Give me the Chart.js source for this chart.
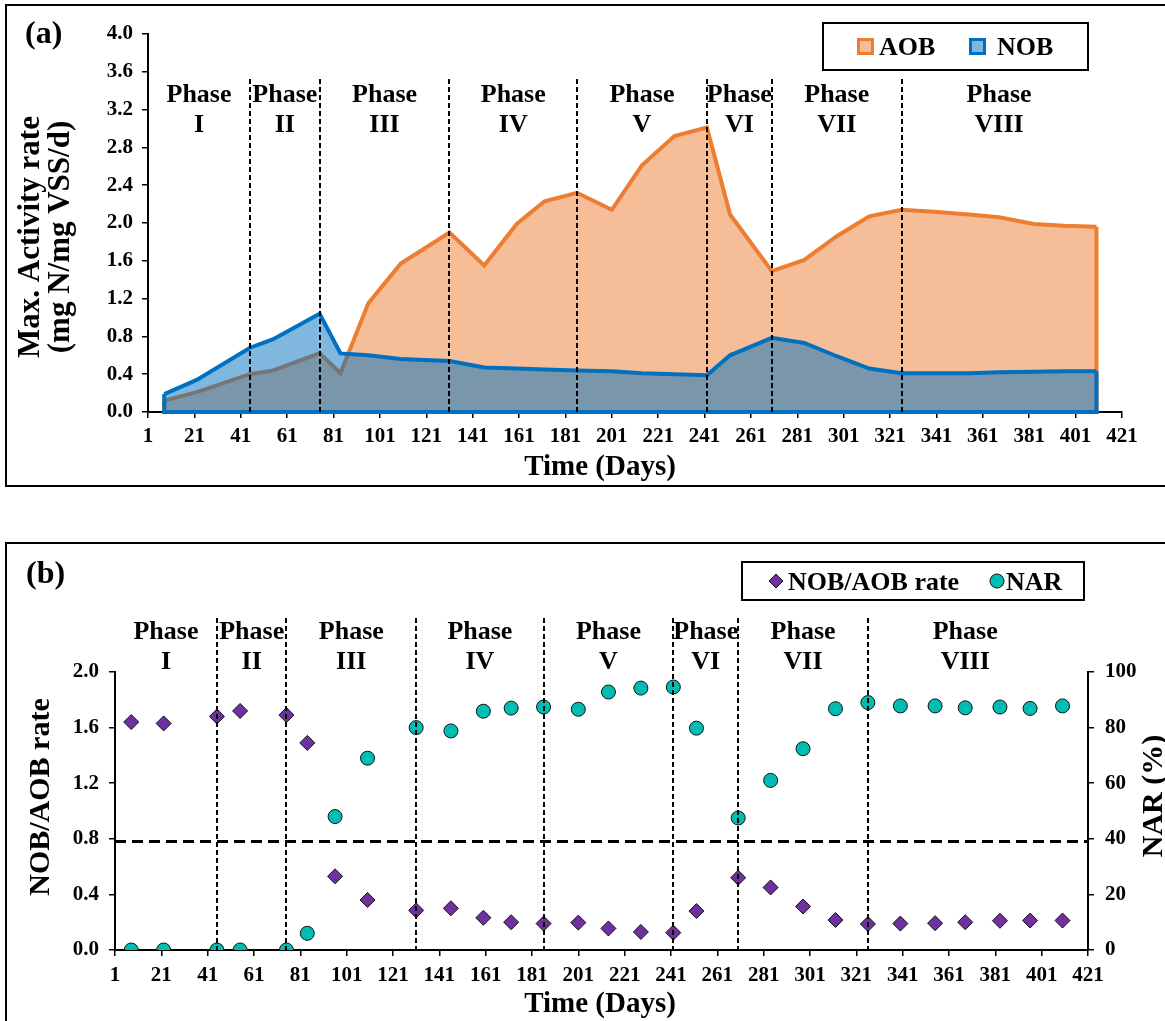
<!DOCTYPE html>
<html>
<head>
<meta charset="utf-8">
<script src="https://cdn.jsdelivr.net/npm/chart.js@4.4.1/dist/chart.umd.min.js"></script>
<style>
  html, body { margin: 0; padding: 0; background: #fff; overflow: hidden; width: 1165px; height: 1021px; }
  .panel { position: absolute; border: 2px solid #000; box-sizing: border-box; }
  #panelA { left: 5px; top: 4px; width: 1200px; height: 483px; }
  #panelB { left: 5px; top: 542px; width: 1200px; height: 600px; }
  canvas { position: absolute; left: 0; }
  #chartA { top: 0; }
  #chartB { top: 500px; }
</style>
</head>
<body>
<div class="panel" id="panelA"></div>
<div class="panel" id="panelB"></div>
<canvas id="chartA" width="1165" height="500"></canvas>
<canvas id="chartB" width="1165" height="521"></canvas>
<script>
// ---- Sampling days (operation time) ----
const days = [8, 22, 45, 55, 75, 84, 96, 110, 131, 146, 160, 172, 186, 201, 214,
              228, 242, 252, 270, 284, 298, 312, 326, 340, 355, 368, 383, 396, 410];

// ---- (a) Maximum activity rates, mg N/mg VSS/d ----
const aobRate = [0.12, 0.21, 0.40, 0.44, 0.62, 0.41, 1.15, 1.57, 1.90, 1.55, 1.99, 2.23, 2.32, 2.14, 2.61,
                 2.92, 3.01, 2.09, 1.49, 1.61, 1.86, 2.07, 2.14, 2.12, 2.09, 2.06, 1.99, 1.97, 1.96];
const nobRate = [0.19, 0.34, 0.68, 0.77, 1.04, 0.62, 0.60, 0.56, 0.54, 0.47, 0.46, 0.45, 0.44, 0.43, 0.41,
                 0.40, 0.39, 0.60, 0.785, 0.73, 0.59, 0.46, 0.41, 0.41, 0.41, 0.42, 0.425, 0.43, 0.43];

// ---- (b) NOB/AOB rate ratio and nitrite accumulation ratio (%) ----
const nobAobRatio = [1.64, 1.63, 1.68, 1.72, 1.69, 1.49, 0.53, 0.36, 0.285, 0.30, 0.232, 0.20, 0.19, 0.197, 0.155,
                     0.13, 0.125, 0.28, 0.52, 0.45, 0.313, 0.216, 0.187, 0.19, 0.193, 0.20, 0.21, 0.212, 0.212];
const narPercent = [0, 0, 0, 0, 0, 6, 48, 69, 80, 78.8, 85.9, 87, 87.4, 86.6, 92.8,
                    94.2, 94.6, 79.8, 47.5, 61, 72.4, 86.8, 89, 87.8, 87.8, 87.1, 87.4, 86.9, 87.8];
const ratioThreshold = 0.78;

// ---- Operating phases (day boundaries) ----
const phaseBounds = [1, 45, 75, 131, 186, 242, 270, 326, 410];
const phaseNames = ['I', 'II', 'III', 'IV', 'V', 'VI', 'VII', 'VIII'];

// ---- Tick values ----
const dayTicks = [1, 21, 41, 61, 81, 101, 121, 141, 161, 181, 201, 221, 241, 261, 281, 301, 321, 341, 361, 381, 401, 421];
const rateTicks = [0, 0.4, 0.8, 1.2, 1.6, 2.0, 2.4, 2.8, 3.2, 3.6, 4.0];
const ratioTicks = [0, 0.4, 0.8, 1.2, 1.6, 2.0];
const narTicks = [0, 20, 40, 60, 80, 100];

const SERIF = "'Liberation Serif', 'Times New Roman', serif";
const serif = (size) => `bold ${size}px ${SERIF}`;

function fixedTicks(list) {
  return (scale) => { scale.ticks = list.map(v => ({ value: v })); };
}

function axisStyle(extra) {
  return Object.assign({
    grid: { drawOnChartArea: false, drawTicks: true, tickLength: 6, color: '#000', lineWidth: 1.5 },
    border: { display: true, color: '#000', width: 2 },
  }, extra);
}

function tickFont(size) { return { family: SERIF, size: size, weight: 'bold' }; }

// Rotated (bottom-to-top) text, x is the baseline position
function vText(ctx, text, x, y, size) {
  ctx.save();
  ctx.translate(x, y);
  ctx.rotate(-Math.PI / 2);
  ctx.font = serif(size);
  ctx.fillStyle = '#000';
  ctx.textAlign = 'center';
  ctx.textBaseline = 'alphabetic';
  ctx.fillText(text, 0, 0);
  ctx.restore();
}

function hText(ctx, text, x, y, size, align) {
  ctx.save();
  ctx.font = serif(size);
  ctx.fillStyle = '#000';
  ctx.textAlign = align || 'left';
  ctx.textBaseline = 'alphabetic';
  ctx.fillText(text, x, y);
  ctx.restore();
}

// Phase separators and phase names
function drawPhases(chart, lineTop, nameBase) {
  const { ctx, chartArea, scales } = chart;
  const x = scales.x;
  ctx.save();
  ctx.strokeStyle = '#000';
  ctx.lineWidth = 2;
  ctx.setLineDash([5, 3]);
  for (let i = 1; i < phaseBounds.length - 1; i++) {
    const px = Math.round(x.getPixelForValue(phaseBounds[i]));
    ctx.beginPath();
    ctx.moveTo(px, lineTop);
    ctx.lineTo(px, chartArea.bottom);
    ctx.stroke();
  }
  ctx.restore();
  phaseNames.forEach((nm, i) => {
    const cx = x.getPixelForValue((phaseBounds[i] + phaseBounds[i + 1]) / 2);
    hText(ctx, 'Phase', cx, nameBase, 26, 'center');
    hText(ctx, nm, cx, nameBase + 30, 26, 'center');
  });
}

// Closes the area outlines (vertical ends and base) like a filled area series
const areaOutline = {
  id: 'areaOutline',
  afterDatasetDraw(chart, args) {
    const pts = args.meta.data;
    if (!pts.length) return;
    const ds = chart.data.datasets[args.index];
    const base = chart.scales.y.getPixelForValue(0);
    const first = pts[0], last = pts[pts.length - 1];
    const ctx = chart.ctx;
    ctx.save();
    ctx.strokeStyle = ds.borderColor;
    ctx.lineWidth = ds.borderWidth;
    ctx.lineJoin = 'miter';
    ctx.beginPath();
    ctx.moveTo(first.x, first.y);
    ctx.lineTo(first.x, base);
    ctx.lineTo(last.x, base);
    ctx.lineTo(last.x, last.y);
    ctx.stroke();
    ctx.restore();
  }
};

// ---------------- Panel (a) ----------------
const annotA = {
  id: 'annotA',
  afterDatasetsDraw(chart) {
    drawPhases(chart, 79, 102);
  },
  afterDraw(chart) {
    const ctx = chart.ctx;
    hText(ctx, '(a)', 25, 43, 32);
    vText(ctx, 'Max. Activity rate', 38.5, 237, 31);
    vText(ctx, '(mg N/mg VSS/d)', 68.5, 237, 31);
    hText(ctx, 'Time (Days)', 600, 475, 29, 'center');

    // legend box
    const boxX = 823, boxY = 23, boxW = 265, boxH = 47;
    ctx.save();
    ctx.fillStyle = '#fff';
    ctx.fillRect(boxX, boxY, boxW, boxH);
    ctx.strokeStyle = '#000';
    ctx.lineWidth = 2;
    ctx.strokeRect(boxX, boxY, boxW, boxH);
    const entries = [
      { ds: chart.data.datasets[0], sx: 857, tx: 879 },
      { ds: chart.data.datasets[1], sx: 969, tx: 997 },
    ];
    entries.forEach(e => {
      ctx.fillStyle = e.ds.backgroundColor;
      ctx.fillRect(e.sx, 38, 17, 17);
      ctx.strokeStyle = e.ds.borderColor;
      ctx.lineWidth = 3;
      ctx.strokeRect(e.sx + 1.5, 39.5, 14, 14);
      hText(ctx, e.ds.label, e.tx, 55, 26);
    });
    ctx.restore();
  }
};

new Chart(document.getElementById('chartA'), {
  type: 'line',
  data: {
    datasets: [
      {
        label: 'AOB',
        data: days.map((d, i) => ({ x: d, y: aobRate[i] })),
        borderColor: '#ED7D31',
        backgroundColor: 'rgba(237,125,49,0.5)',
        borderWidth: 4,
        fill: 'origin',
        pointRadius: 0,
        tension: 0,
        order: 2,
      },
      {
        label: 'NOB',
        data: days.map((d, i) => ({ x: d, y: nobRate[i] })),
        borderColor: '#0070C0',
        backgroundColor: 'rgba(0,112,192,0.5)',
        borderWidth: 4,
        fill: 'origin',
        pointRadius: 0,
        tension: 0,
        order: 1,
      },
    ],
  },
  options: {
    responsive: false,
    animation: false,
    devicePixelRatio: 1,
    events: [],
    layout: { padding: { left: 0, top: 34, right: 43, bottom: 0 } },
    plugins: { legend: { display: false }, tooltip: { enabled: false } },
    scales: {
      x: axisStyle({
        type: 'linear', min: 1, max: 421,
        afterBuildTicks: fixedTicks(dayTicks),
        afterFit: (s) => { s.height = 88; },
        ticks: { font: tickFont(21), color: '#000', padding: 6, autoSkip: false, maxRotation: 0, callback: v => String(v) },
      }),
      y: axisStyle({
        type: 'linear', min: 0, max: 4,
        afterBuildTicks: fixedTicks(rateTicks),
        afterFit: (s) => { s.width = 148; },
        ticks: { font: tickFont(21), color: '#000', padding: 9, callback: v => Number(v).toFixed(1) },
      }),
    },
  },
  plugins: [areaOutline, annotA],
});

// ---------------- Panel (b) ----------------
function diamond(ctx, x, y, r) {
  ctx.beginPath();
  ctx.moveTo(x - r, y);
  ctx.lineTo(x, y - r);
  ctx.lineTo(x + r, y);
  ctx.lineTo(x, y + r);
  ctx.closePath();
}

const annotB = {
  id: 'annotB',
  afterDatasetsDraw(chart) {
    const { ctx, chartArea, scales } = chart;
    // threshold line
    const ty = scales.y.getPixelForValue(ratioThreshold);
    ctx.save();
    ctx.strokeStyle = '#000';
    ctx.lineWidth = 3;
    ctx.setLineDash([11, 6]);
    ctx.beginPath();
    ctx.moveTo(chartArea.left, ty);
    ctx.lineTo(chartArea.right, ty);
    ctx.stroke();
    ctx.restore();
    drawPhases(chart, 118, 139);
  },
  afterDraw(chart) {
    const ctx = chart.ctx;
    hText(ctx, '(b)', 26, 83, 32);
    vText(ctx, 'NOB/AOB rate', 49, 297, 30);
    vText(ctx, 'NAR (%)', 1162, 296, 30);
    hText(ctx, 'Time (Days)', 600, 512, 29, 'center');

    // legend box
    const boxX = 742, boxY = 62, boxW = 342, boxH = 38;
    ctx.save();
    ctx.fillStyle = '#fff';
    ctx.fillRect(boxX, boxY, boxW, boxH);
    ctx.strokeStyle = '#000';
    ctx.lineWidth = 2;
    ctx.strokeRect(boxX, boxY, boxW, boxH);

    const d0 = chart.data.datasets[0], d1 = chart.data.datasets[1];
    ctx.fillStyle = d0.backgroundColor;
    ctx.strokeStyle = d0.borderColor;
    ctx.lineWidth = d0.borderWidth;
    diamond(ctx, 776, 81, 7);
    ctx.fill(); ctx.stroke();
    hText(ctx, d0.label, 788, 90, 26);

    ctx.fillStyle = d1.backgroundColor;
    ctx.strokeStyle = d1.borderColor;
    ctx.lineWidth = d1.borderWidth;
    ctx.beginPath();
    ctx.arc(997, 81, 7, 0, Math.PI * 2);
    ctx.fill(); ctx.stroke();
    hText(ctx, d1.label, 1006, 90, 26);
    ctx.restore();
  }
};

new Chart(document.getElementById('chartB'), {
  type: 'scatter',
  data: {
    datasets: [
      {
        label: 'NOB/AOB rate',
        data: days.map((d, i) => ({ x: d, y: nobAobRatio[i] })),
        yAxisID: 'y',
        pointStyle: 'rectRot',
        pointRadius: 7.5,
        backgroundColor: '#7030A0',
        borderColor: '#111',
        borderWidth: 1,
      },
      {
        label: 'NAR',
        data: days.map((d, i) => ({ x: d, y: narPercent[i] })),
        yAxisID: 'y2',
        pointStyle: 'circle',
        pointRadius: 7,
        backgroundColor: '#00BDB3',
        borderColor: '#111',
        borderWidth: 1,
      },
    ],
  },
  options: {
    responsive: false,
    animation: false,
    devicePixelRatio: 1,
    events: [],
    layout: { padding: { left: 0, top: 172, right: 0, bottom: 0 } },
    plugins: { legend: { display: false }, tooltip: { enabled: false } },
    scales: {
      x: axisStyle({
        type: 'linear', min: 1, max: 421,
        afterBuildTicks: fixedTicks(dayTicks),
        afterFit: (s) => { s.height = 71; },
        ticks: { font: tickFont(21), color: '#000', padding: 7, autoSkip: false, maxRotation: 0, callback: v => String(v) },
      }),
      y: axisStyle({
        type: 'linear', position: 'left', min: 0, max: 2,
        afterBuildTicks: fixedTicks(ratioTicks),
        afterFit: (s) => { s.width = 115; },
        ticks: { font: tickFont(21), color: '#000', padding: 10, callback: v => Number(v).toFixed(1) },
      }),
      y2: axisStyle({
        type: 'linear', position: 'right', min: 0, max: 100,
        afterBuildTicks: fixedTicks(narTicks),
        afterFit: (s) => { s.width = 77; },
        ticks: { font: tickFont(21), color: '#000', padding: 11, callback: v => String(v) },
      }),
    },
  },
  plugins: [annotB],
});
</script>
</body>
</html>
